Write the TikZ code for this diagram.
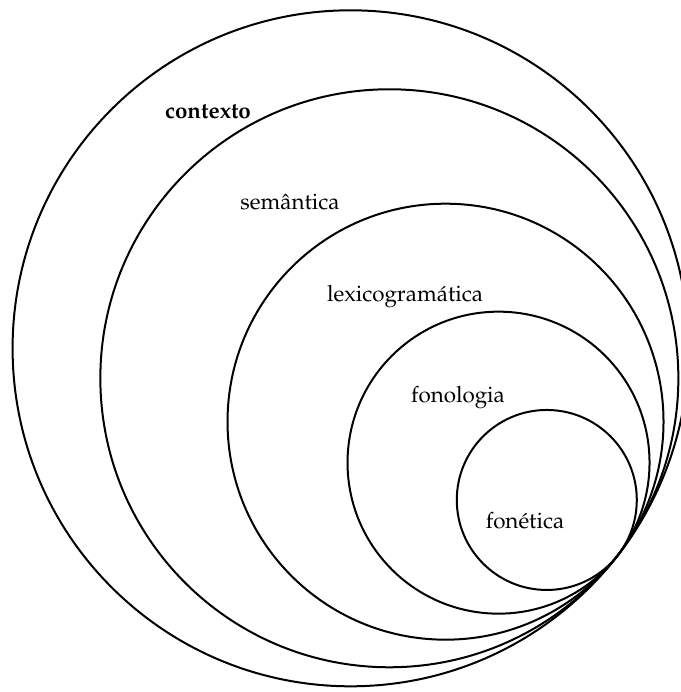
\documentclass[tikz,border=0pt]{standalone}
\usepackage[T1]{fontenc}
\usepackage{mathpazo}
\usetikzlibrary{calc}

\tikzset{
  ring/.style={line width=1pt},
  stratum/.style={font=\fontsize{11.2}{14}\selectfont, inner sep=0pt}
}

\begin{document}
\begin{tikzpicture}[x=0.5pt,y=0.5pt]

  \useasboundingbox (0,0) rectangle (681,692);

  % point where all the circles touch
  \coordinate (tang) at (618,137);

  % nested circles, outermost first
  \foreach \r in {338,289,218,151,90}
    \draw[ring] ($(tang)+(142.3:\r)$) circle (\r);

  % strata labels
  \node[stratum] (contexto) at (208,580) {\bfseries contexto};
  \node[stratum] (semantica) at (290,490) {sem\^antica};
  \node[stratum] (lexico) at (405,395) {lexicogram\'atica};
  \node[stratum] (fonologia) at (458,294) {fonologia};
  \node[stratum] (fonetica) at (525,171) {fon\'etica};

\end{tikzpicture}
\end{document}
